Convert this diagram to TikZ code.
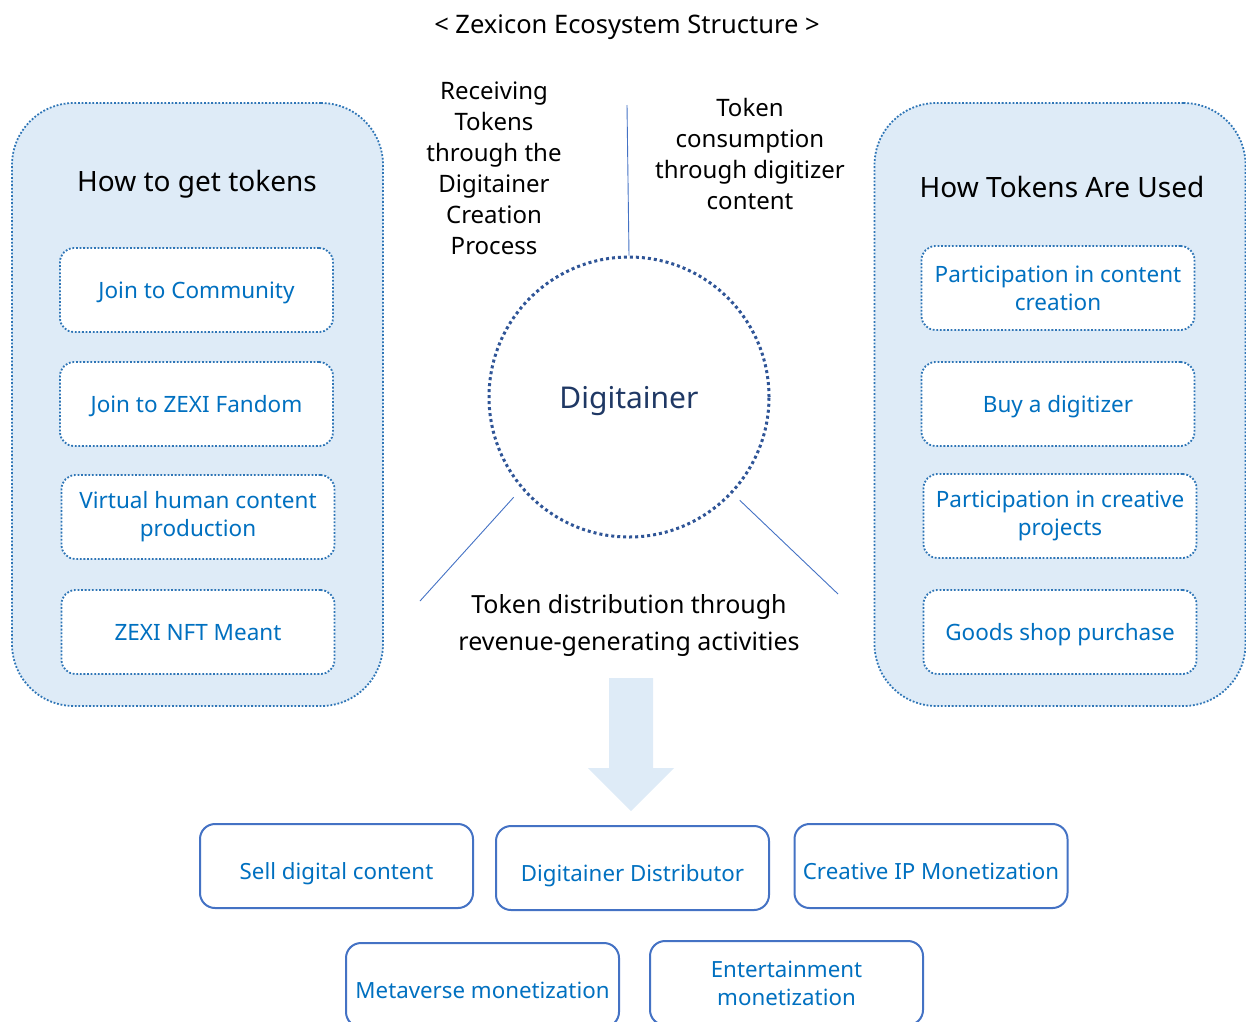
\documentclass[tikz,border=0pt]{standalone}
\usepackage{fontspec}
\setmainfont{Noto Sans}
\usetikzlibrary{positioning,calc}
\definecolor{panelfill}{HTML}{DEEBF7}
\definecolor{paneledge}{HTML}{2E75B6}
\definecolor{itemtext}{HTML}{0070C0}
\definecolor{circedge}{HTML}{2F5597}
\definecolor{circtext}{HTML}{1F3864}
\definecolor{boxedge}{HTML}{4472C4}
\newcommand{\fs}[1]{\fontsize{#1}{1.25\dimexpr#1pt\relax}\selectfont}

\tikzset{
  panel/.style={draw=paneledge, fill=panelfill, line width=1.8pt,
    dash pattern=on 1.8pt off 1.8pt, rounded corners=62pt,
    minimum width=371pt, minimum height=603pt, inner sep=0pt},
  item/.style={draw=paneledge, fill=white, line width=1.8pt,
    dash pattern=on 1.8pt off 1.8pt, rounded corners=14pt,
    minimum width=273pt, minimum height=84pt, inner sep=2pt,
    text=itemtext, align=center, font=\fs{22.5}},
  earn/.style={draw=boxedge, fill=white, line width=2pt, rounded corners=15pt,
    minimum width=273pt, minimum height=84pt, inner sep=2pt,
    text=itemtext, align=center, font=\fs{22.3}},
  low/.style={text height=26pt, text depth=0pt},
  mid/.style={text height=17pt, text depth=0pt},
  note/.style={align=center, font=\fs{24}, text=black},
  link/.style={draw=boxedge, line width=0.9pt}
}

\begin{document}
\begin{tikzpicture}[x=1pt, y=-1pt]
  \useasboundingbox (0,0) rectangle (1246,1021);

  \node[note, font=\fs{25.5}] (title) at (627, 27) {< Zexicon Ecosystem Structure >};

  \node[panel] (get) at (197.5,404.5) {};
  \node[panel] (use) at (1060 ,404.5) {};
  \node[note, font=\fs{28}] (gethead) at (197 ,184) {How to get tokens};
  \node[note, font=\fs{28}] (usehead) at (1062,187) {How Tokens Are Used};

  \node[item, mid] (g1) at (196.5,290) {Join to Community};
  \node[item, mid] (g2) at (196.5,404) {Join to ZEXI Fandom};
  \node[item] (g3) at (198  ,517) {Virtual human content\\production};
  \node[item, mid] (g4) at (198  ,632) {ZEXI NFT Meant};

  \node[item] (u1) at (1058 ,288) {Participation in content\\creation};
  \node[item, mid] (u2) at (1058 ,404) {Buy a digitizer};
  \node[item] (u3) at (1060 ,516) {Participation in creative\\projects};
  \node[item, mid] (u4) at (1060 ,632) {Goods shop purchase};

  \node[circle, draw=circedge, line width=3pt, dash pattern=on 3pt off 3pt,
        minimum size=280pt, inner sep=0pt, text=circtext, font=\fs{30},
        text height=22.5pt, text depth=0pt]
        (dig) at (629,397) {Digitainer};

  \node[note, font=\fontsize{24}{31}\selectfont] (recv) at (494,168) {Receiving\\Tokens\\through the\\Digitainer\\Creation\\Process};
  \node[note, font=\fontsize{24}{31}\selectfont] (cons) at (750,154) {Token\\consumption\\through digitizer\\content};
  \node[note, font=\fontsize{25}{37}\selectfont] (dist) at (629,625) {Token distribution through\\revenue-generating activities};

  \coordinate (top)   at (627,105);
  \coordinate (lfoot) at (420,601);
  \coordinate (rfoot) at (838,594);
  \draw[link] (top) -- (dig.north);
  \draw[link] ($(dig.center)!1.08!(dig.221)$) -- (lfoot);
  \draw[link] ($(dig.center)!1.07!(dig.317)$) -- (rfoot);

  \fill[panelfill] (609,678) -- (653,678) -- (653,768) -- (674,768)
                   -- (631,811) -- (588,768) -- (609,768) -- cycle;

  \node[earn, low] (e1) at (336.5,866) {Sell digital content};
  \node[earn, low] (e2) at (632.5,868) {Digitainer Distributor};
  \node[earn, low] (e3) at (931  ,866) {Creative IP Monetization};
  \node[earn, low] (e4) at (482.5,985) {Metaverse monetization};
  \node[earn] (e5) at (786.5,983) {Entertainment\\monetization};
\end{tikzpicture}
\end{document}
